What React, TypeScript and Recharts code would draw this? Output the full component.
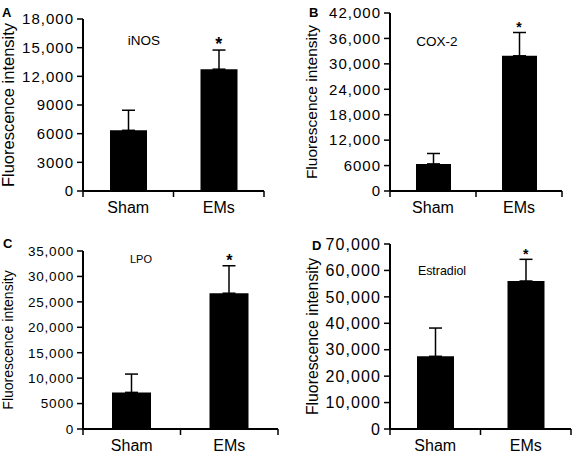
import React from 'react';
import { BarChart, Bar, XAxis, YAxis, ErrorBar, ReferenceDot } from 'recharts';

// groups on the x axis
const groups = ['Sham', 'EMs'];
const signif = ['', '*'];

// A - iNOS
const inosMean = [6350, 12750];
const inosErr = [2100, 2000];
const inosTicks = [0, 3000, 6000, 9000, 12000, 15000, 18000];

// B - COX-2
const cox2Mean = [6400, 31900];
const cox2Err = [2450, 5500];
const cox2Ticks = [0, 6000, 12000, 18000, 24000, 30000, 36000, 42000];

// C - LPO
const lpoMean = [7200, 26700];
const lpoErr = [3600, 5400];
const lpoTicks = [0, 5000, 10000, 15000, 20000, 25000, 30000, 35000];

// D - Estradiol
const estrMean = [27500, 56000];
const estrErr = [10700, 8200];
const estrTicks = [0, 10000, 20000, 30000, 40000, 50000, 60000, 70000];

const FONT = '"Liberation Sans", Arial, Helvetica, sans-serif';

const fmt = (v: number) => (v >= 10000 ? v.toLocaleString('en-US') : String(v));

// x axis runs 0..n; whole numbers are slot edges (tick marks), halves are slot centres (labels)
const xTicks: number[] = [];
for (let i = 0; i <= groups.length * 2; i++) xTicks.push(i / 2);

const EdgeTick = (props: any) => {
  const { x, y, payload, fontSize, gap } = props;
  const v = payload.value as number;
  if (Number.isInteger(v)) {
    return <line x1={x} x2={x} y1={y} y2={y + 6} stroke="#000" strokeWidth={1.5} />;
  }
  return (
    <text x={x} y={y + gap} dy="0.71em" textAnchor="middle" fontSize={fontSize} fill="#000">
      {groups[Math.floor(v)]}
    </text>
  );
};

interface PanelProps {
  letter: string;
  title: string;
  mean: number[];
  err: number[];
  ticks: number[];
  left: number;
  top: number;
  width: number;
  height: number;
  margin: { top: number; right: number; bottom: number; left: number };
  yWidth: number;
  xHeight: number;
  barSize: number;
  tickFont: number;
  tickSpacing: number;
  catFont: number;
  catGap: number;
  yLabelFont: number;
  yLabelX: number;
  titleFont: number;
  titleX: number;
  titleY: number;
  letterX: number;
  letterY: number;
  starFont: number;
  starOffset: number;
}

const Panel: React.FC<PanelProps> = (p) => {
  const data = groups.map((g, i) => ({
    group: g,
    pos: i + 0.5,
    mean: p.mean[i],
    range: [0, p.err[i]],
  }));
  const max = p.ticks[p.ticks.length - 1];

  return (
    <div style={{ position: 'absolute', left: p.left, top: p.top, width: p.width, height: p.height }}>
      <BarChart width={p.width} height={p.height} data={data} margin={p.margin}>
        <XAxis
          dataKey="pos"
          type="number"
          domain={[0, groups.length]}
          ticks={xTicks}
          interval={0}
          allowDataOverflow
          height={p.xHeight}
          tickSize={0}
          tickMargin={0}
          tickLine={false}
          axisLine={{ stroke: '#000', strokeWidth: 2 }}
          tick={<EdgeTick fontSize={p.catFont} gap={p.catGap} />}
        />
        <YAxis
          width={p.yWidth}
          domain={[0, max]}
          ticks={p.ticks}
          interval={0}
          tickFormatter={fmt}
          tickSize={6}
          tickMargin={3}
          axisLine={{ stroke: '#000', strokeWidth: 2 }}
          tickLine={{ stroke: '#000', strokeWidth: 1.5 }}
          tick={{ fill: '#000', fontSize: p.tickFont, letterSpacing: p.tickSpacing }}
          label={{
            value: 'Fluorescence intensity',
            angle: -90,
            position: 'insideLeft',
            offset: p.yLabelX,
            style: { textAnchor: 'middle', fontSize: p.yLabelFont, fill: '#000' },
          }}
        />
        <Bar dataKey="mean" fill="#000" barSize={p.barSize} isAnimationActive={false}>
          <ErrorBar dataKey="range" direction="y" width={6.5} stroke="#000" strokeWidth={1.5} />
        </Bar>
        {data.map((d, i) =>
          signif[i] ? (
            <ReferenceDot
              key={d.group}
              x={d.pos}
              y={p.mean[i] + p.err[i]}
              r={0}
              fill="none"
              stroke="none"
              label={{
                value: signif[i],
                position: 'top',
                offset: p.starOffset,
                fill: '#000',
                fontSize: p.starFont,
                fontWeight: 'bold',
              }}
            />
          ) : null
        )}
      </BarChart>
      <div
        style={{
          position: 'absolute',
          left: p.titleX,
          top: p.titleY,
          transform: 'translate(-50%, -50%)',
          fontSize: p.titleFont,
          whiteSpace: 'nowrap',
          lineHeight: 1,
        }}
      >
        {p.title}
      </div>
      <div
        style={{
          position: 'absolute',
          left: p.letterX,
          top: p.letterY,
          fontSize: 13,
          fontWeight: 'bold',
          lineHeight: 1,
        }}
      >
        {p.letter}
      </div>
    </div>
  );
};

export default function App() {
  return (
    <div
      style={{
        position: 'absolute',
        left: 0,
        top: 0,
        width: 572,
        height: 455,
        background: '#fff',
        fontFamily: FONT,
        overflow: 'hidden',
      }}
    >
      <Panel
        letter="A"
        title="iNOS"
        mean={inosMean}
        err={inosErr}
        ticks={inosTicks}
        left={0}
        top={0}
        width={286}
        height={228}
        margin={{ top: 19, right: 22, bottom: 7, left: 0 }}
        yWidth={83}
        xHeight={30}
        barSize={37}
        tickFont={15}
        tickSpacing={1}
        catFont={16}
        catGap={11}
        yLabelFont={16.5}
        yLabelX={8.5}
        titleFont={13.5}
        titleX={144}
        titleY={41}
        letterX={2}
        letterY={6}
        starFont={18}
        starOffset={0}
      />
      <Panel
        letter="B"
        title="COX-2"
        mean={cox2Mean}
        err={cox2Err}
        ticks={cox2Ticks}
        left={286}
        top={0}
        width={286}
        height={228}
        margin={{ top: 13, right: 10, bottom: 7, left: 0 }}
        yWidth={104}
        xHeight={30}
        barSize={35}
        tickFont={15}
        tickSpacing={1}
        catFont={16}
        catGap={11}
        yLabelFont={15.5}
        yLabelX={25}
        titleFont={13.5}
        titleX={151}
        titleY={42}
        letterX={23}
        letterY={6}
        starFont={14}
        starOffset={0}
      />
      <Panel
        letter="C"
        title="LPO"
        mean={lpoMean}
        err={lpoErr}
        ticks={lpoTicks}
        left={0}
        top={228}
        width={286}
        height={227}
        margin={{ top: 23, right: 8, bottom: 0, left: 0 }}
        yWidth={83}
        xHeight={26}
        barSize={39}
        tickFont={13.5}
        tickSpacing={0.8}
        catFont={16}
        catGap={11}
        yLabelFont={14}
        yLabelX={8}
        titleFont={11}
        titleX={141}
        titleY={31}
        letterX={3}
        letterY={9}
        starFont={16}
        starOffset={0}
      />
      <Panel
        letter="D"
        title="Estradiol"
        mean={estrMean}
        err={estrErr}
        ticks={estrTicks}
        left={286}
        top={228}
        width={286}
        height={227}
        margin={{ top: 16, right: 1, bottom: 0, left: 0 }}
        yWidth={104}
        xHeight={26}
        barSize={37}
        tickFont={16}
        tickSpacing={1.1}
        catFont={16}
        catGap={11}
        yLabelFont={15.8}
        yLabelX={26}
        titleFont={12.4}
        titleX={156}
        titleY={43}
        letterX={26}
        letterY={11}
        starFont={14}
        starOffset={0}
      />
    </div>
  );
}
